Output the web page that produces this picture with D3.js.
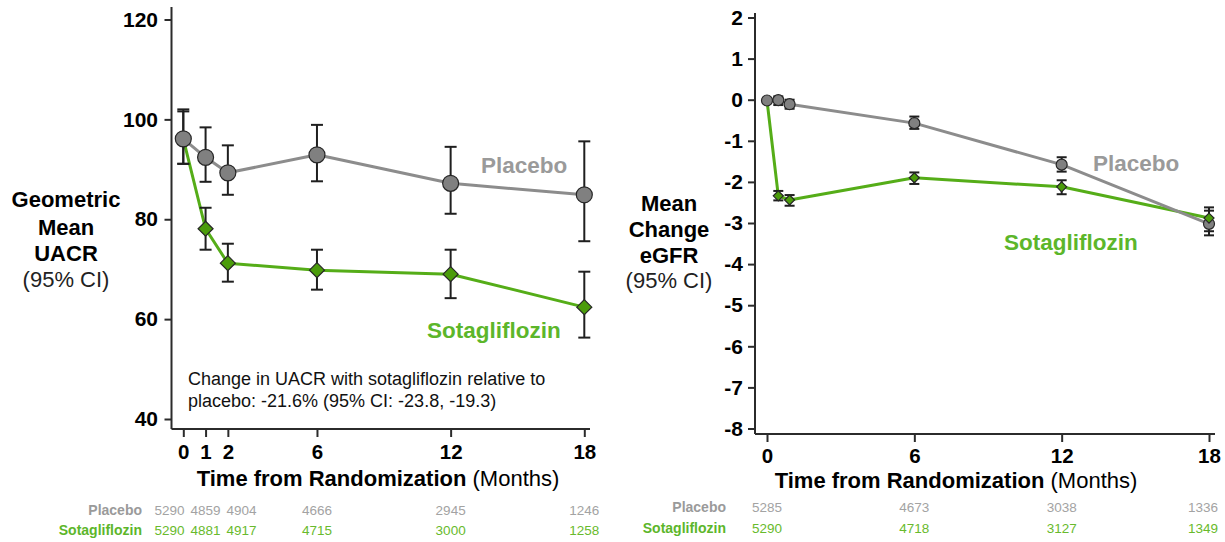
<!DOCTYPE html>
<html>
<head>
<meta charset="utf-8">
<script src="https://cdn.jsdelivr.net/npm/d3@7"></script>
<style>
  html, body { margin: 0; padding: 0; background: #fff; }
  svg { display: block; font-family: "Liberation Sans", Arial, sans-serif; }
</style>
</head>
<body>
<svg id="chart" width="1225" height="542"></svg>
<script>
// ---- UACR panel (geometric mean, 95% CI) ----
const uacrMonths = [0, 1, 2, 6, 12, 18];
const uacrPlacebo = [96.1, 92.4, 89.3, 92.9, 87.2, 84.9];
const uacrPlaceboLo = [91.1, 87.5, 84.9, 87.6, 81.1, 75.6];
const uacrPlaceboHi = [102.0, 98.4, 94.8, 98.9, 94.5, 95.6];
const uacrSota = [96.1, 78.1, 71.2, 69.8, 69.0, 62.4];
const uacrSotaLo = [91.1, 73.9, 67.5, 65.9, 64.2, 56.3];
const uacrSotaHi = [101.6, 82.3, 75.1, 73.9, 73.9, 69.5];
const uacrYTicks = [40, 60, 80, 100, 120];
const uacrXTicks = [0, 1, 2, 6, 12, 18];
const uacrRiskMonths = [0, 1, 2, 6, 12, 18];
const uacrRiskPlacebo = [5290, 4859, 4904, 4666, 2945, 1246];
const uacrRiskSota = [5290, 4881, 4917, 4715, 3000, 1258];

// ---- eGFR panel (mean change, 95% CI) ----
const egfrMonths = [0, 0.46, 0.92, 6, 12, 18];
const egfrPlacebo = [-0.02, -0.01, -0.11, -0.57, -1.58, -3.02];
const egfrPlaceboLo = [-0.02, -0.13, -0.22, -0.71, -1.75, -3.30];
const egfrPlaceboHi = [-0.02, 0.08, 0.00, -0.41, -1.40, -2.70];
const egfrSota = [-0.02, -2.34, -2.44, -1.90, -2.12, -2.88];
const egfrSotaLo = [-0.02, -2.45, -2.58, -2.05, -2.30, -3.20];
const egfrSotaHi = [-0.02, -2.22, -2.32, -1.77, -1.96, -2.62];
const egfrYTicks = [2, 1, 0, -1, -2, -3, -4, -5, -6, -7, -8];
const egfrXTicks = [0, 6, 12, 18];
const egfrRiskMonths = [0, 6, 12, 18];
const egfrRiskPlacebo = [5285, 4673, 3038, 1336];
const egfrRiskSota = [5290, 4718, 3127, 1349];

const seriesNames = ["Placebo", "Sotagliflozin"];
const uacrNote = ["Change in UACR with sotagliflozin relative to",
                  "placebo: -21.6% (95% CI: -23.8, -19.3)"];
const uacrTitle = ["Geometric", "Mean", "UACR"];
const egfrTitle = ["Mean", "Change", "eGFR"];
const ciText = "(95% CI)";

const COL = {
  axis: "#2b2b2b",
  grayLine: "#8c8c8c",
  grayFill: "#808080",
  grayText: "#9a9a9a",
  grayRisk: "#a3a3a3",
  greenLine: "#55ad18",
  greenFill: "#4b9c0b",
  greenText: "#5cb62a",
  greenRisk: "#68ba2c",
  marker: "#262626",
  bar: "#1f1f1f"
};

const svg = d3.select("#chart");
const W = 1225;

function zip(m, v, lo, hi) {
  return m.map((month, i) => ({ month, v: v[i], lo: lo[i], hi: hi[i] }));
}

function diamondPath(s) {
  return `M0,${-s}L${s},0L0,${s}L${-s},0Z`;
}

// spread crowded number-at-risk labels apart, keeping each cluster centred
function spread(xs, gap, maxX) {
  let pos = xs.slice();
  for (let iter = 0; iter < 10; iter++) {
    let changed = false;
    let i = 0;
    while (i < pos.length) {
      let j = i;
      while (j + 1 < pos.length && pos[j + 1] - pos[j] < gap - 0.01) j++;
      if (j > i) {
        const mean = d3.mean(xs.slice(i, j + 1));
        const n = j - i + 1;
        for (let k = i; k <= j; k++) pos[k] = mean + (k - i - (n - 1) / 2) * gap;
        changed = true;
      }
      i = j + 1;
    }
    if (!changed) break;
  }
  return pos.map(p => Math.min(p, maxX));
}

function panel(cfg) {
  const g = svg.append("g");
  const { x, y } = cfg;

  // axis lines (offset from the data area)
  g.append("line")
    .attr("x1", cfg.axisX).attr("x2", cfg.axisX)
    .attr("y1", cfg.axisTop).attr("y2", cfg.axisY)
    .attr("stroke", COL.axis).attr("stroke-width", 2);
  g.append("line")
    .attr("x1", cfg.axisX).attr("x2", cfg.axisRight)
    .attr("y1", cfg.axisY).attr("y2", cfg.axisY)
    .attr("stroke", COL.axis).attr("stroke-width", 2);

  const yAxis = g.append("g")
    .attr("transform", `translate(${cfg.axisX},0)`)
    .call(d3.axisLeft(y).tickValues(cfg.yTicks).tickSize(7)
      .tickPadding(cfg.yPad).tickFormat(d => String(d)));
  yAxis.select(".domain").remove();
  yAxis.selectAll("line").attr("stroke", COL.axis).attr("stroke-width", 2);
  yAxis.selectAll("text").attr("fill", "#000")
    .style("font-size", "21px").style("font-weight", "bold")
    .style("font-family", "'Liberation Sans', Arial, sans-serif");

  const xAxis = g.append("g")
    .attr("transform", `translate(0,${cfg.axisY})`)
    .call(d3.axisBottom(x).tickValues(cfg.xTicks).tickSize(8)
      .tickPadding(cfg.xPad).tickFormat(d => String(d)));
  xAxis.select(".domain").remove();
  xAxis.selectAll("line").attr("stroke", COL.axis).attr("stroke-width", 2);
  xAxis.selectAll("text").attr("fill", "#000")
    .style("font-size", "20.5px").style("font-weight", "bold")
    .style("font-family", "'Liberation Sans', Arial, sans-serif");

  // x-axis title
  const xt = g.append("text")
    .attr("x", cfg.xTitleX).attr("y", cfg.xTitleY)
    .attr("text-anchor", "middle").style("font-size", "22px").attr("fill", "#000");
  xt.append("tspan").style("font-weight", "bold").text("Time from Randomization");
  xt.append("tspan").text(" (Months)");

  // y-axis title
  cfg.yTitle.forEach((t, i) => {
    g.append("text").attr("x", cfg.yTitleX).attr("y", cfg.yTitleY[i])
      .attr("text-anchor", "middle").style("font-size", "22px")
      .style("font-weight", "bold").attr("fill", "#000").text(t);
  });
  g.append("text").attr("x", cfg.yTitleX).attr("y", cfg.yTitleY[3])
    .attr("text-anchor", "middle").style("font-size", "22px")
    .attr("fill", "#222").text(ciText);

  const line = d3.line().x(d => x(d.month)).y(d => y(d.v));

  // lines: sotagliflozin underneath placebo
  g.append("path").datum(cfg.sota).attr("d", line)
    .attr("fill", "none").attr("stroke", COL.greenLine)
    .attr("stroke-width", 3).attr("stroke-linejoin", "round");
  g.append("path").datum(cfg.placebo).attr("d", line)
    .attr("fill", "none").attr("stroke", COL.grayLine)
    .attr("stroke-width", 3).attr("stroke-linejoin", "round");

  // 95% CI error bars
  const bars = cfg.placebo.concat(cfg.sota).filter(d => d.hi !== d.lo);
  const eb = g.append("g").attr("stroke", COL.bar).attr("stroke-width", 2);
  eb.selectAll("line.v").data(bars).join("line").attr("class", "v")
    .attr("x1", d => x(d.month)).attr("x2", d => x(d.month))
    .attr("y1", d => y(d.lo)).attr("y2", d => y(d.hi));
  eb.selectAll("line.lo").data(bars).join("line").attr("class", "lo")
    .attr("x1", d => x(d.month) - cfg.cap).attr("x2", d => x(d.month) + cfg.cap)
    .attr("y1", d => y(d.lo)).attr("y2", d => y(d.lo));
  eb.selectAll("line.hi").data(bars).join("line").attr("class", "hi")
    .attr("x1", d => x(d.month) - cfg.cap).attr("x2", d => x(d.month) + cfg.cap)
    .attr("y1", d => y(d.hi)).attr("y2", d => y(d.hi));

  // markers: the shared baseline is shown by the placebo circle
  g.selectAll("circle.pl").data(cfg.placebo).join("circle").attr("class", "pl")
    .attr("cx", d => x(d.month)).attr("cy", d => y(d.v)).attr("r", cfg.r)
    .attr("fill", COL.grayFill).attr("stroke", COL.marker).attr("stroke-width", 1.2);
  g.selectAll("path.so").data(cfg.sota.filter(d => d.month > 0)).join("path").attr("class", "so")
    .attr("transform", d => `translate(${x(d.month)},${y(d.v)})`)
    .attr("d", diamondPath(cfg.dia))
    .attr("fill", COL.greenFill).attr("stroke", COL.marker).attr("stroke-width", 1.2);

  // series labels
  g.append("text").attr("x", cfg.plLabel[0]).attr("y", cfg.plLabel[1])
    .style("font-size", "22.5px").style("font-weight", "bold")
    .attr("fill", COL.grayText).text(seriesNames[0]);
  g.append("text").attr("x", cfg.soLabel[0]).attr("y", cfg.soLabel[1])
    .style("font-size", "22.5px").style("font-weight", "bold")
    .attr("fill", COL.greenText).text(seriesNames[1]);

  // number at risk
  const riskX = spread(cfg.riskMonths.map(m => x(m)), 36, W - 22);
  const rows = [
    { name: seriesNames[0], vals: cfg.riskPlacebo, col: COL.grayRisk, lab: COL.grayText, yy: cfg.riskY[0] },
    { name: seriesNames[1], vals: cfg.riskSota, col: COL.greenRisk, lab: COL.greenText, yy: cfg.riskY[1] }
  ];
  rows.forEach(r => {
    g.append("text").attr("x", cfg.riskLabelX).attr("y", r.yy)
      .attr("text-anchor", "end").style("font-size", "14px")
      .style("font-weight", "bold").attr("fill", r.lab).text(r.name);
    g.selectAll(null).data(r.vals).join("text")
      .attr("x", (d, i) => riskX[i]).attr("y", r.yy)
      .attr("text-anchor", "middle").style("font-size", "13.5px")
      .attr("fill", r.col).text(d => d);
  });
  return g;
}

// left panel: UACR
const uacrPanel = panel({
  x: d3.scaleLinear().domain([0, 18]).range([183.3, 584.3]),
  y: d3.scaleLinear().domain([40, 120]).range([419, 19.5]),
  axisX: 171.5, axisY: 429, axisTop: 7, axisRight: 590,
  yTicks: uacrYTicks, xTicks: uacrXTicks, yPad: 6.5, xPad: 7,
  xTitleX: 378, xTitleY: 486,
  yTitle: uacrTitle, yTitleX: 66, yTitleY: [207, 235, 261, 287],
  placebo: zip(uacrMonths, uacrPlacebo, uacrPlaceboLo, uacrPlaceboHi),
  sota: zip(uacrMonths, uacrSota, uacrSotaLo, uacrSotaHi),
  cap: 6, r: 8, dia: 7.5,
  plLabel: [481, 173], soLabel: [427, 338],
  riskMonths: uacrRiskMonths, riskPlacebo: uacrRiskPlacebo, riskSota: uacrRiskSota,
  riskLabelX: 142, riskY: [515, 535]
});

uacrNote.forEach((t, i) => {
  uacrPanel.append("text").attr("x", 188).attr("y", 385 + i * 22)
    .style("font-size", "18px").attr("fill", "#111").text(t);
});

// right panel: eGFR
panel({
  x: d3.scaleLinear().domain([0, 18]).range([767, 1209]),
  y: d3.scaleLinear().domain([-8, 2]).range([428.5, 17.5]),
  axisX: 755, axisY: 434, axisTop: 13, axisRight: 1215,
  yTicks: egfrYTicks, xTicks: egfrXTicks, yPad: 5, xPad: 6,
  xTitleX: 956, xTitleY: 488,
  yTitle: egfrTitle, yTitleX: 669, yTitleY: [211, 237, 263, 288],
  placebo: zip(egfrMonths, egfrPlacebo, egfrPlaceboLo, egfrPlaceboHi),
  sota: zip(egfrMonths, egfrSota, egfrSotaLo, egfrSotaHi),
  cap: 5, r: 5.5, dia: 5,
  plLabel: [1093, 171], soLabel: [1004, 250],
  riskMonths: egfrRiskMonths, riskPlacebo: egfrRiskPlacebo, riskSota: egfrRiskSota,
  riskLabelX: 726, riskY: [512, 533]
});
</script>
</body>
</html>
